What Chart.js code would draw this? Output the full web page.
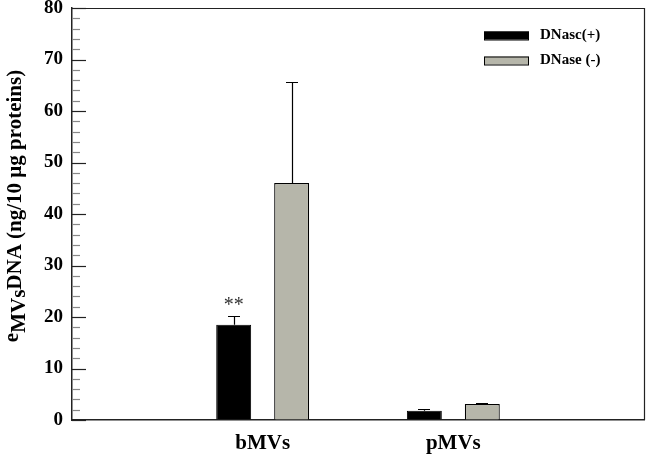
<!DOCTYPE html>
<html><head><meta charset="utf-8">
<script src="https://cdn.jsdelivr.net/npm/chart.js@4/dist/chart.umd.min.js"></script>
<style>html,body{margin:0;padding:0;background:#fff}#wrap{width:646px;height:458px}</style>
</head><body><div id="wrap"><canvas id="c" width="646" height="458"></canvas></div>
<script>
const categories = ['', 'bMVs', 'pMVs', ''];
const seriesNames = ['DNasc(+)', 'DNase (-)'];
const dnaseplus = [null, 18.5, 1.8, null];
const dnaseminus = [null, 46.0, 3.1, null];
const errPlus = [null, 1.7, 0.3, null];
const errMinus = [null, 19.6, 0.2, null];
const yTicks = [0, 10, 20, 30, 40, 50, 60, 70, 80];
const significance = [null, '**', null, null];

const SERIF = '"Liberation Serif", "DejaVu Serif", serif';

const custom = {
  id: 'custom',
  afterDatasetsDraw(chart) {
    const ctx = chart.ctx, ca = chart.chartArea;
    const ys = chart.scales.y;
    ctx.save();
    [errPlus, errMinus].forEach((errs, di) => {
      const meta = chart.getDatasetMeta(di);
      const vals = chart.data.datasets[di].data;
      meta.data.forEach((bar, i) => {
        if (vals[i] == null || errs[i] == null) return;
        const x = bar.x;
        const y0 = ys.getPixelForValue(vals[i]);
        const y1 = ys.getPixelForValue(vals[i] + errs[i]);
        ctx.strokeStyle = '#000';
        ctx.lineWidth = 1.2;
        ctx.beginPath();
        ctx.moveTo(Math.round(x) + 0.5, y0);
        ctx.lineTo(Math.round(x) + 0.5, Math.round(y1) + 0.5);
        ctx.moveTo(Math.round(x) - 6, Math.round(y1) + 0.5);
        ctx.lineTo(Math.round(x) + 6, Math.round(y1) + 0.5);
        ctx.stroke();
        if (di === 0 && significance[i]) {
          ctx.fillStyle = '#333';
          ctx.font = '20px ' + SERIF;
          ctx.textAlign = 'center';
          ctx.textBaseline = 'middle';
          ctx.fillText(significance[i], x, y1 - 10);
        }
      });
    });
    ctx.restore();
  },
  afterDraw(chart) {
    const ctx = chart.ctx, ca = chart.chartArea;
    const ys = chart.scales.y;
    ctx.save();
    ctx.strokeStyle = '#222';
    ctx.lineWidth = 1.2;
    ctx.beginPath();
    ctx.moveTo(ca.left, ca.top + 0.5);
    ctx.lineTo(ca.right + 0.5, ca.top + 0.5);
    ctx.lineTo(ca.right + 0.5, ca.bottom);
    ctx.stroke();
    for (let v = 0; v <= 80; v += 2) {
      const y = Math.round(ys.getPixelForValue(v)) + 0.5;
      const major = v % 10 === 0;
      ctx.strokeStyle = major ? '#222' : '#888';
      ctx.lineWidth = 1.2;
      ctx.beginPath();
      ctx.moveTo(ca.left, y);
      ctx.lineTo(ca.left + (major ? 14 : 8), y);
      ctx.stroke();
    }
    ctx.fillStyle = '#000';
    ctx.translate(16, (ca.top + ca.bottom) / 2 - 8);
    ctx.rotate(-Math.PI / 2);
    const f = 'bold 21px ' + SERIF;
    const parts = [
      {t: 'e', f: f, dy: -3},
      {t: 'MVs', f: f, dy: 4},
      {t: 'DNA (ng/10 \u03bcg proteins)', f: f, dy: 0}
    ];
    let total = 0;
    parts.forEach(p => { ctx.font = p.f; p.w = ctx.measureText(p.t).width; total += p.w; });
    let x = -total / 2;
    ctx.textBaseline = 'middle';
    ctx.textAlign = 'left';
    parts.forEach(p => { ctx.font = p.f; ctx.fillText(p.t, x, p.dy); x += p.w; });
    ctx.restore();
    ctx.save();
    const lx = 484, ly = [35.5, 60.5];
    chart.data.datasets.forEach((ds, i) => {
      ctx.fillStyle = ds.backgroundColor;
      ctx.fillRect(lx, ly[i] - 4, 45, 8);
      ctx.strokeStyle = '#000';
      ctx.lineWidth = 1;
      ctx.strokeRect(lx + 0.5, ly[i] - 3.5, 44, 8);
      ctx.fillStyle = '#000';
      ctx.font = 'bold 15px ' + SERIF;
      ctx.textBaseline = 'middle';
      ctx.textAlign = 'left';
      ctx.fillText(ds.label, 540, ly[i]);
    });
    ctx.restore();
  }
};

new Chart(document.getElementById('c'), {
  type: 'bar',
  data: {
    labels: categories,
    datasets: [
      {label: seriesNames[0], data: dnaseplus, backgroundColor: '#000000', borderColor: '#000', borderWidth: 1,
       categoryPercentage: 0.608, barPercentage: 0.603},
      {label: seriesNames[1], data: dnaseminus, backgroundColor: '#b6b6aa', borderColor: '#000', borderWidth: 1.2,
       categoryPercentage: 0.608, barPercentage: 0.603}
    ]
  },
  options: {
    responsive: false,
    animation: false,
    layout: {padding: {top: 8, right: 2, left: 0, bottom: 0}},
    plugins: {legend: {display: false}, tooltip: {enabled: false}},
    scales: {
      x: {
        offset: false,
        grid: {display: true, drawOnChartArea: false, drawTicks: false, color: 'rgba(0,0,0,0)'},
        border: {display: true, color: '#222', width: 1.5},
        ticks: {color: '#000', font: {family: SERIF, size: 21, weight: 'bold'}, padding: 11, maxRotation: 0, autoSkip: false},
        afterFit(s) { s.height = 38; s.paddingLeft = 0; s.paddingRight = 0; }
      },
      y: {
        min: 0, max: 80,
        afterBuildTicks(s) { s.ticks = yTicks.map(v => ({value: v})); },
        grid: {display: true, drawOnChartArea: false, drawTicks: false, color: 'rgba(0,0,0,0)'},
        border: {display: true, color: '#222', width: 1.5},
        ticks: {color: '#000', font: {family: SERIF, size: 19, weight: 'bold'}, padding: 9},
        afterFit(s) { s.width = 72; s.paddingTop = 0; s.paddingBottom = 0; }
      }
    }
  },
  plugins: [custom]
});
</script>
</body></html>
